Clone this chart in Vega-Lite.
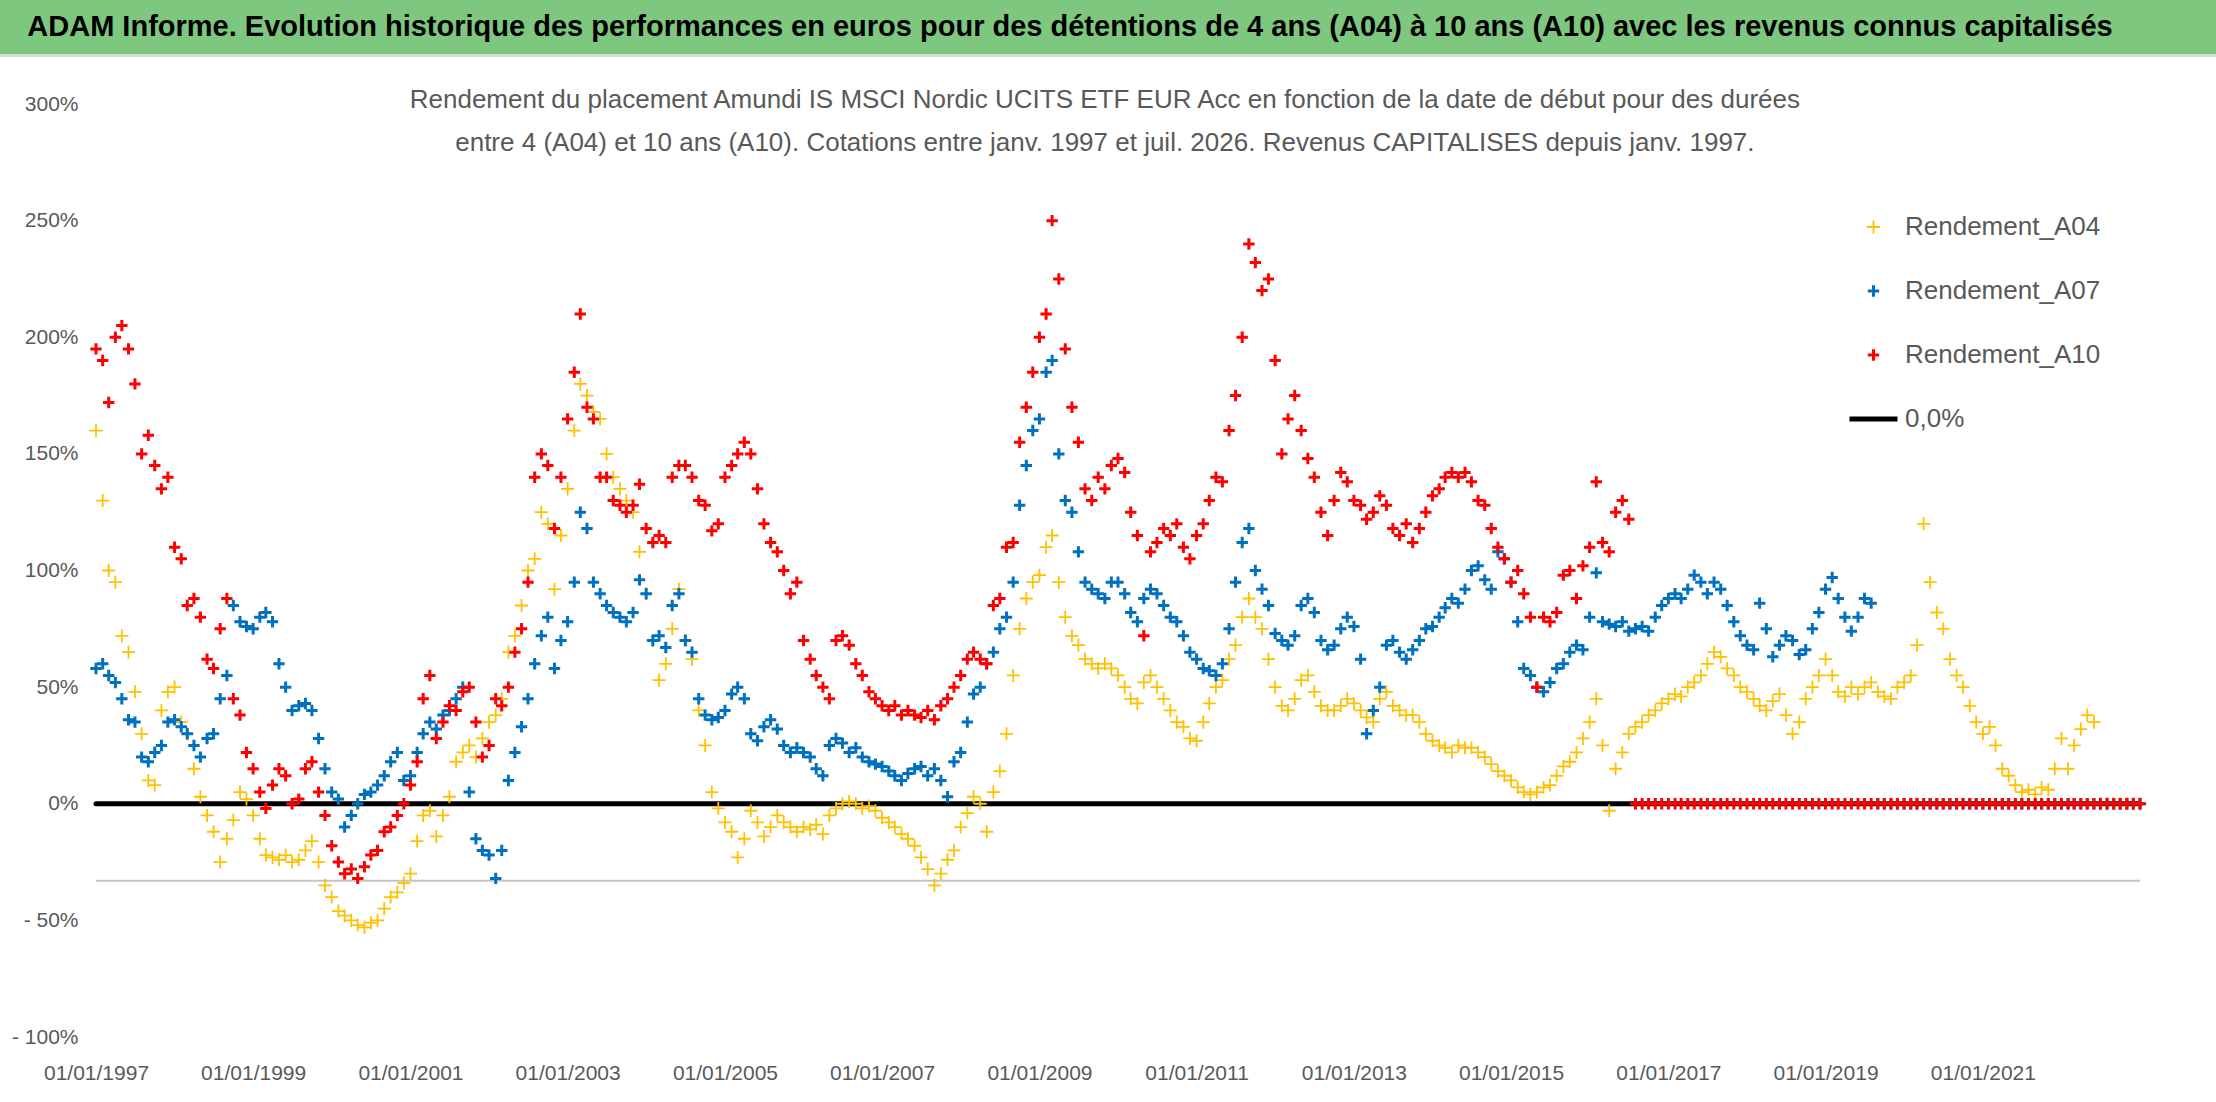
{
  "$schema": "https://vega.github.io/schema/vega-lite/v6.json",
  "autosize": "none",
  "width": 2044,
  "height": 933,
  "padding": {"left": 96, "top": 104, "right": 76, "bottom": 65},
  "background": "white",
  "datasets": {
    "perf": [
      {"d": "1997-01", "A04": 160, "A07": 58, "A10": 195},
      {"d": "1997-02", "A04": 130, "A07": 60, "A10": 190},
      {"d": "1997-03", "A04": 100, "A07": 55, "A10": 172},
      {"d": "1997-04", "A04": 95, "A07": 52, "A10": 200},
      {"d": "1997-05", "A04": 72, "A07": 45, "A10": 205},
      {"d": "1997-06", "A04": 65, "A07": 36, "A10": 195},
      {"d": "1997-07", "A04": 48, "A07": 35, "A10": 180},
      {"d": "1997-08", "A04": 30, "A07": 20, "A10": 150},
      {"d": "1997-09", "A04": 10, "A07": 18, "A10": 158},
      {"d": "1997-10", "A04": 8, "A07": 22, "A10": 145},
      {"d": "1997-11", "A04": 40, "A07": 25, "A10": 135},
      {"d": "1997-12", "A04": 48, "A07": 35, "A10": 140},
      {"d": "1998-01", "A04": 50, "A07": 36, "A10": 110},
      {"d": "1998-02", "A04": 35, "A07": 33, "A10": 105},
      {"d": "1998-03", "A04": 30, "A07": 30, "A10": 85},
      {"d": "1998-04", "A04": 15, "A07": 25, "A10": 88},
      {"d": "1998-05", "A04": 3, "A07": 20, "A10": 80},
      {"d": "1998-06", "A04": -5, "A07": 28, "A10": 62},
      {"d": "1998-07", "A04": -12, "A07": 30, "A10": 58},
      {"d": "1998-08", "A04": -25, "A07": 45, "A10": 75},
      {"d": "1998-09", "A04": -15, "A07": 55, "A10": 88},
      {"d": "1998-10", "A04": -7, "A07": 85, "A10": 45},
      {"d": "1998-11", "A04": 5, "A07": 78, "A10": 38},
      {"d": "1998-12", "A04": 2, "A07": 76, "A10": 22},
      {"d": "1999-01", "A04": -5, "A07": 75, "A10": 15},
      {"d": "1999-02", "A04": -15, "A07": 80, "A10": 5},
      {"d": "1999-03", "A04": -22, "A07": 82, "A10": -2},
      {"d": "1999-04", "A04": -23, "A07": 78, "A10": 8},
      {"d": "1999-05", "A04": -24, "A07": 60, "A10": 15},
      {"d": "1999-06", "A04": -22, "A07": 50, "A10": 12},
      {"d": "1999-07", "A04": -25, "A07": 40, "A10": 0},
      {"d": "1999-08", "A04": -24, "A07": 42, "A10": 2},
      {"d": "1999-09", "A04": -20, "A07": 43, "A10": 15},
      {"d": "1999-10", "A04": -16, "A07": 40, "A10": 18},
      {"d": "1999-11", "A04": -25, "A07": 28, "A10": 5},
      {"d": "1999-12", "A04": -35, "A07": 15, "A10": -5},
      {"d": "2000-01", "A04": -40, "A07": 5, "A10": -18},
      {"d": "2000-02", "A04": -46, "A07": 2, "A10": -25},
      {"d": "2000-03", "A04": -48, "A07": -10, "A10": -30},
      {"d": "2000-04", "A04": -50, "A07": -5, "A10": -28},
      {"d": "2000-05", "A04": -52, "A07": 0, "A10": -32},
      {"d": "2000-06", "A04": -53, "A07": 4, "A10": -27},
      {"d": "2000-07", "A04": -51, "A07": 5, "A10": -22},
      {"d": "2000-08", "A04": -50, "A07": 8, "A10": -20},
      {"d": "2000-09", "A04": -45, "A07": 12, "A10": -12},
      {"d": "2000-10", "A04": -40, "A07": 18, "A10": -10},
      {"d": "2000-11", "A04": -38, "A07": 22, "A10": -5},
      {"d": "2000-12", "A04": -34, "A07": 10, "A10": 0},
      {"d": "2001-01", "A04": -30, "A07": 12, "A10": 8},
      {"d": "2001-02", "A04": -16, "A07": 22, "A10": 18},
      {"d": "2001-03", "A04": -5, "A07": 30, "A10": 45},
      {"d": "2001-04", "A04": -3, "A07": 35, "A10": 55},
      {"d": "2001-05", "A04": -14, "A07": 32, "A10": 28},
      {"d": "2001-06", "A04": -5, "A07": 38, "A10": 35},
      {"d": "2001-07", "A04": 3, "A07": 40, "A10": 42},
      {"d": "2001-08", "A04": 18, "A07": 45, "A10": 40},
      {"d": "2001-09", "A04": 22, "A07": 50, "A10": 48},
      {"d": "2001-10", "A04": 25, "A07": 5, "A10": 50},
      {"d": "2001-11", "A04": 20, "A07": -15, "A10": 35},
      {"d": "2001-12", "A04": 28, "A07": -20, "A10": 20},
      {"d": "2002-01", "A04": 35, "A07": -22, "A10": 25},
      {"d": "2002-02", "A04": 38, "A07": -32, "A10": 45},
      {"d": "2002-03", "A04": 45, "A07": -20, "A10": 42},
      {"d": "2002-04", "A04": 65, "A07": 10, "A10": 50},
      {"d": "2002-05", "A04": 72, "A07": 22, "A10": 65},
      {"d": "2002-06", "A04": 85, "A07": 33, "A10": 75},
      {"d": "2002-07", "A04": 100, "A07": 45, "A10": 95},
      {"d": "2002-08", "A04": 105, "A07": 60, "A10": 140},
      {"d": "2002-09", "A04": 125, "A07": 72, "A10": 150},
      {"d": "2002-10", "A04": 120, "A07": 80, "A10": 145},
      {"d": "2002-11", "A04": 92, "A07": 58, "A10": 118},
      {"d": "2002-12", "A04": 115, "A07": 70, "A10": 140},
      {"d": "2003-01", "A04": 135, "A07": 78, "A10": 165},
      {"d": "2003-02", "A04": 160, "A07": 95, "A10": 185},
      {"d": "2003-03", "A04": 180, "A07": 125, "A10": 210},
      {"d": "2003-04", "A04": 175, "A07": 118, "A10": 170},
      {"d": "2003-05", "A04": 168, "A07": 95, "A10": 165},
      {"d": "2003-06", "A04": 165, "A07": 90, "A10": 140},
      {"d": "2003-07", "A04": 150, "A07": 85, "A10": 140},
      {"d": "2003-08", "A04": 140, "A07": 82, "A10": 130},
      {"d": "2003-09", "A04": 135, "A07": 80, "A10": 128},
      {"d": "2003-10", "A04": 130, "A07": 78, "A10": 125},
      {"d": "2003-11", "A04": 125, "A07": 82, "A10": 128},
      {"d": "2003-12", "A04": 108, "A07": 96, "A10": 137},
      {"d": "2004-01", "A04": 90, "A07": 90, "A10": 118},
      {"d": "2004-02", "A04": 70, "A07": 70, "A10": 112},
      {"d": "2004-03", "A04": 53, "A07": 72, "A10": 115},
      {"d": "2004-04", "A04": 60, "A07": 67, "A10": 112},
      {"d": "2004-05", "A04": 75, "A07": 85, "A10": 140},
      {"d": "2004-06", "A04": 92, "A07": 90, "A10": 145},
      {"d": "2004-07", "A04": 70, "A07": 70, "A10": 145},
      {"d": "2004-08", "A04": 62, "A07": 65, "A10": 140},
      {"d": "2004-09", "A04": 40, "A07": 45, "A10": 130},
      {"d": "2004-10", "A04": 25, "A07": 38, "A10": 128},
      {"d": "2004-11", "A04": 5, "A07": 36, "A10": 117},
      {"d": "2004-12", "A04": -2, "A07": 37, "A10": 120},
      {"d": "2005-01", "A04": -8, "A07": 40, "A10": 140},
      {"d": "2005-02", "A04": -12, "A07": 47, "A10": 145},
      {"d": "2005-03", "A04": -23, "A07": 50, "A10": 150},
      {"d": "2005-04", "A04": -15, "A07": 45, "A10": 155},
      {"d": "2005-05", "A04": -3, "A07": 30, "A10": 150},
      {"d": "2005-06", "A04": -8, "A07": 27, "A10": 135},
      {"d": "2005-07", "A04": -14, "A07": 33, "A10": 120},
      {"d": "2005-08", "A04": -10, "A07": 36, "A10": 112},
      {"d": "2005-09", "A04": -5, "A07": 32, "A10": 108},
      {"d": "2005-10", "A04": -8, "A07": 25, "A10": 100},
      {"d": "2005-11", "A04": -10, "A07": 22, "A10": 90},
      {"d": "2005-12", "A04": -12, "A07": 24, "A10": 95},
      {"d": "2006-01", "A04": -10, "A07": 22, "A10": 70},
      {"d": "2006-02", "A04": -11, "A07": 20, "A10": 62},
      {"d": "2006-03", "A04": -9, "A07": 15, "A10": 55},
      {"d": "2006-04", "A04": -13, "A07": 12, "A10": 50},
      {"d": "2006-05", "A04": -5, "A07": 25, "A10": 45},
      {"d": "2006-06", "A04": -2, "A07": 28, "A10": 70},
      {"d": "2006-07", "A04": 0, "A07": 26, "A10": 72},
      {"d": "2006-08", "A04": 1, "A07": 22, "A10": 68},
      {"d": "2006-09", "A04": 0, "A07": 24, "A10": 60},
      {"d": "2006-10", "A04": -2, "A07": 20, "A10": 55},
      {"d": "2006-11", "A04": -1, "A07": 18, "A10": 48},
      {"d": "2006-12", "A04": -3, "A07": 17, "A10": 45},
      {"d": "2007-01", "A04": -6, "A07": 16, "A10": 42},
      {"d": "2007-02", "A04": -8, "A07": 14, "A10": 40},
      {"d": "2007-03", "A04": -10, "A07": 12, "A10": 42},
      {"d": "2007-04", "A04": -13, "A07": 10, "A10": 38},
      {"d": "2007-05", "A04": -15, "A07": 13, "A10": 40},
      {"d": "2007-06", "A04": -18, "A07": 15, "A10": 38},
      {"d": "2007-07", "A04": -23, "A07": 16, "A10": 37},
      {"d": "2007-08", "A04": -28, "A07": 12, "A10": 40},
      {"d": "2007-09", "A04": -35, "A07": 15, "A10": 36},
      {"d": "2007-10", "A04": -30, "A07": 10, "A10": 42},
      {"d": "2007-11", "A04": -24, "A07": 3, "A10": 45},
      {"d": "2007-12", "A04": -20, "A07": 18, "A10": 50},
      {"d": "2008-01", "A04": -10, "A07": 22, "A10": 55},
      {"d": "2008-02", "A04": -4, "A07": 35, "A10": 62},
      {"d": "2008-03", "A04": 3, "A07": 47, "A10": 65},
      {"d": "2008-04", "A04": 0, "A07": 50, "A10": 62},
      {"d": "2008-05", "A04": -12, "A07": 60, "A10": 60},
      {"d": "2008-06", "A04": 5, "A07": 65, "A10": 85},
      {"d": "2008-07", "A04": 14, "A07": 75, "A10": 88},
      {"d": "2008-08", "A04": 30, "A07": 80, "A10": 110},
      {"d": "2008-09", "A04": 55, "A07": 95, "A10": 112},
      {"d": "2008-10", "A04": 75, "A07": 128, "A10": 155},
      {"d": "2008-11", "A04": 88, "A07": 145, "A10": 170},
      {"d": "2008-12", "A04": 95, "A07": 160, "A10": 185},
      {"d": "2009-01", "A04": 98, "A07": 165, "A10": 200},
      {"d": "2009-02", "A04": 110, "A07": 185, "A10": 210},
      {"d": "2009-03", "A04": 115, "A07": 190, "A10": 250},
      {"d": "2009-04", "A04": 95, "A07": 150, "A10": 225},
      {"d": "2009-05", "A04": 80, "A07": 130, "A10": 195},
      {"d": "2009-06", "A04": 72, "A07": 125, "A10": 170},
      {"d": "2009-07", "A04": 68, "A07": 108, "A10": 155},
      {"d": "2009-08", "A04": 62, "A07": 95, "A10": 135},
      {"d": "2009-09", "A04": 60, "A07": 92, "A10": 130},
      {"d": "2009-10", "A04": 58, "A07": 90, "A10": 140},
      {"d": "2009-11", "A04": 60, "A07": 88, "A10": 135},
      {"d": "2009-12", "A04": 58, "A07": 95, "A10": 145},
      {"d": "2010-01", "A04": 55, "A07": 95, "A10": 148},
      {"d": "2010-02", "A04": 50, "A07": 90, "A10": 142},
      {"d": "2010-03", "A04": 45, "A07": 82, "A10": 125},
      {"d": "2010-04", "A04": 43, "A07": 78, "A10": 115},
      {"d": "2010-05", "A04": 52, "A07": 88, "A10": 72},
      {"d": "2010-06", "A04": 55, "A07": 92, "A10": 108},
      {"d": "2010-07", "A04": 50, "A07": 90, "A10": 112},
      {"d": "2010-08", "A04": 45, "A07": 85, "A10": 118},
      {"d": "2010-09", "A04": 40, "A07": 80, "A10": 115},
      {"d": "2010-10", "A04": 35, "A07": 78, "A10": 120},
      {"d": "2010-11", "A04": 33, "A07": 72, "A10": 110},
      {"d": "2010-12", "A04": 28, "A07": 65, "A10": 105},
      {"d": "2011-01", "A04": 27, "A07": 62, "A10": 115},
      {"d": "2011-02", "A04": 35, "A07": 58, "A10": 120},
      {"d": "2011-03", "A04": 43, "A07": 57, "A10": 130},
      {"d": "2011-04", "A04": 50, "A07": 55, "A10": 140},
      {"d": "2011-05", "A04": 53, "A07": 60, "A10": 138},
      {"d": "2011-06", "A04": 62, "A07": 75, "A10": 160},
      {"d": "2011-07", "A04": 68, "A07": 95, "A10": 175},
      {"d": "2011-08", "A04": 80, "A07": 112, "A10": 200},
      {"d": "2011-09", "A04": 88, "A07": 118, "A10": 240},
      {"d": "2011-10", "A04": 80, "A07": 100, "A10": 232},
      {"d": "2011-11", "A04": 75, "A07": 92, "A10": 220},
      {"d": "2011-12", "A04": 62, "A07": 85, "A10": 225},
      {"d": "2012-01", "A04": 50, "A07": 73, "A10": 190},
      {"d": "2012-02", "A04": 42, "A07": 70, "A10": 150},
      {"d": "2012-03", "A04": 40, "A07": 68, "A10": 165},
      {"d": "2012-04", "A04": 45, "A07": 72, "A10": 175},
      {"d": "2012-05", "A04": 53, "A07": 85, "A10": 160},
      {"d": "2012-06", "A04": 55, "A07": 88, "A10": 148},
      {"d": "2012-07", "A04": 48, "A07": 82, "A10": 140},
      {"d": "2012-08", "A04": 42, "A07": 70, "A10": 125},
      {"d": "2012-09", "A04": 40, "A07": 66, "A10": 115},
      {"d": "2012-10", "A04": 40, "A07": 68, "A10": 130},
      {"d": "2012-11", "A04": 42, "A07": 75, "A10": 142},
      {"d": "2012-12", "A04": 45, "A07": 80, "A10": 138},
      {"d": "2013-01", "A04": 43, "A07": 76, "A10": 130},
      {"d": "2013-02", "A04": 40, "A07": 62, "A10": 128},
      {"d": "2013-03", "A04": 37, "A07": 30, "A10": 122},
      {"d": "2013-04", "A04": 35, "A07": 40, "A10": 125},
      {"d": "2013-05", "A04": 45, "A07": 50, "A10": 132},
      {"d": "2013-06", "A04": 48, "A07": 68, "A10": 128},
      {"d": "2013-07", "A04": 42, "A07": 70, "A10": 118},
      {"d": "2013-08", "A04": 40, "A07": 65, "A10": 115},
      {"d": "2013-09", "A04": 38, "A07": 62, "A10": 120},
      {"d": "2013-10", "A04": 38, "A07": 66, "A10": 112},
      {"d": "2013-11", "A04": 35, "A07": 70, "A10": 118},
      {"d": "2013-12", "A04": 30, "A07": 75, "A10": 125},
      {"d": "2014-01", "A04": 27, "A07": 76, "A10": 132},
      {"d": "2014-02", "A04": 25, "A07": 80, "A10": 135},
      {"d": "2014-03", "A04": 24, "A07": 84, "A10": 140},
      {"d": "2014-04", "A04": 22, "A07": 88, "A10": 142},
      {"d": "2014-05", "A04": 25, "A07": 86, "A10": 140},
      {"d": "2014-06", "A04": 24, "A07": 92, "A10": 142},
      {"d": "2014-07", "A04": 24, "A07": 100, "A10": 138},
      {"d": "2014-08", "A04": 22, "A07": 102, "A10": 130},
      {"d": "2014-09", "A04": 20, "A07": 96, "A10": 128},
      {"d": "2014-10", "A04": 17, "A07": 92, "A10": 118},
      {"d": "2014-11", "A04": 14, "A07": 108, "A10": 110},
      {"d": "2014-12", "A04": 12, "A07": 105, "A10": 105},
      {"d": "2015-01", "A04": 10, "A07": 95, "A10": 95},
      {"d": "2015-02", "A04": 7, "A07": 78, "A10": 100},
      {"d": "2015-03", "A04": 5, "A07": 58, "A10": 90},
      {"d": "2015-04", "A04": 4, "A07": 55, "A10": 80},
      {"d": "2015-05", "A04": 5, "A07": 50, "A10": 50},
      {"d": "2015-06", "A04": 7, "A07": 48, "A10": 80},
      {"d": "2015-07", "A04": 8, "A07": 52, "A10": 78},
      {"d": "2015-08", "A04": 12, "A07": 58, "A10": 82},
      {"d": "2015-09", "A04": 16, "A07": 60, "A10": 98},
      {"d": "2015-10", "A04": 18, "A07": 65, "A10": 100},
      {"d": "2015-11", "A04": 22, "A07": 68, "A10": 88},
      {"d": "2015-12", "A04": 28, "A07": 66, "A10": 102},
      {"d": "2016-01", "A04": 35, "A07": 80, "A10": 110},
      {"d": "2016-02", "A04": 45, "A07": 99, "A10": 138},
      {"d": "2016-03", "A04": 25, "A07": 78, "A10": 112},
      {"d": "2016-04", "A04": -3, "A07": 77, "A10": 108},
      {"d": "2016-05", "A04": 15, "A07": 76, "A10": 125},
      {"d": "2016-06", "A04": 22, "A07": 78, "A10": 130},
      {"d": "2016-07", "A04": 30, "A07": 74, "A10": 122},
      {"d": "2016-08", "A04": 33, "A07": 75, "A10": 0},
      {"d": "2016-09", "A04": 35, "A07": 76, "A10": 0},
      {"d": "2016-10", "A04": 38, "A07": 74, "A10": 0},
      {"d": "2016-11", "A04": 40, "A07": 80, "A10": 0},
      {"d": "2016-12", "A04": 43, "A07": 85, "A10": 0},
      {"d": "2017-01", "A04": 45, "A07": 88, "A10": 0},
      {"d": "2017-02", "A04": 47, "A07": 90, "A10": 0},
      {"d": "2017-03", "A04": 46, "A07": 88, "A10": 0},
      {"d": "2017-04", "A04": 50, "A07": 92, "A10": 0},
      {"d": "2017-05", "A04": 52, "A07": 98, "A10": 0},
      {"d": "2017-06", "A04": 55, "A07": 95, "A10": 0},
      {"d": "2017-07", "A04": 60, "A07": 90, "A10": 0},
      {"d": "2017-08", "A04": 65, "A07": 95, "A10": 0},
      {"d": "2017-09", "A04": 63, "A07": 92, "A10": 0},
      {"d": "2017-10", "A04": 58, "A07": 85, "A10": 0},
      {"d": "2017-11", "A04": 55, "A07": 78, "A10": 0},
      {"d": "2017-12", "A04": 50, "A07": 72, "A10": 0},
      {"d": "2018-01", "A04": 48, "A07": 68, "A10": 0},
      {"d": "2018-02", "A04": 45, "A07": 66, "A10": 0},
      {"d": "2018-03", "A04": 42, "A07": 86, "A10": 0},
      {"d": "2018-04", "A04": 40, "A07": 75, "A10": 0},
      {"d": "2018-05", "A04": 44, "A07": 63, "A10": 0},
      {"d": "2018-06", "A04": 47, "A07": 68, "A10": 0},
      {"d": "2018-07", "A04": 38, "A07": 72, "A10": 0},
      {"d": "2018-08", "A04": 30, "A07": 70, "A10": 0},
      {"d": "2018-09", "A04": 35, "A07": 64, "A10": 0},
      {"d": "2018-10", "A04": 45, "A07": 66, "A10": 0},
      {"d": "2018-11", "A04": 50, "A07": 75, "A10": 0},
      {"d": "2018-12", "A04": 55, "A07": 82, "A10": 0},
      {"d": "2019-01", "A04": 62, "A07": 92, "A10": 0},
      {"d": "2019-02", "A04": 55, "A07": 97, "A10": 0},
      {"d": "2019-03", "A04": 48, "A07": 88, "A10": 0},
      {"d": "2019-04", "A04": 46, "A07": 80, "A10": 0},
      {"d": "2019-05", "A04": 50, "A07": 74, "A10": 0},
      {"d": "2019-06", "A04": 47, "A07": 80, "A10": 0},
      {"d": "2019-07", "A04": 50, "A07": 88, "A10": 0},
      {"d": "2019-08", "A04": 52, "A07": 86, "A10": 0},
      {"d": "2019-09", "A04": 48, "A07": 0, "A10": 0},
      {"d": "2019-10", "A04": 46, "A07": 0, "A10": 0},
      {"d": "2019-11", "A04": 45, "A07": 0, "A10": 0},
      {"d": "2019-12", "A04": 50, "A07": 0, "A10": 0},
      {"d": "2020-01", "A04": 52, "A07": 0, "A10": 0},
      {"d": "2020-02", "A04": 55, "A07": 0, "A10": 0},
      {"d": "2020-03", "A04": 68, "A07": 0, "A10": 0},
      {"d": "2020-04", "A04": 120, "A07": 0, "A10": 0},
      {"d": "2020-05", "A04": 95, "A07": 0, "A10": 0},
      {"d": "2020-06", "A04": 82, "A07": 0, "A10": 0},
      {"d": "2020-07", "A04": 75, "A07": 0, "A10": 0},
      {"d": "2020-08", "A04": 62, "A07": 0, "A10": 0},
      {"d": "2020-09", "A04": 55, "A07": 0, "A10": 0},
      {"d": "2020-10", "A04": 50, "A07": 0, "A10": 0},
      {"d": "2020-11", "A04": 42, "A07": 0, "A10": 0},
      {"d": "2020-12", "A04": 35, "A07": 0, "A10": 0},
      {"d": "2021-01", "A04": 30, "A07": 0, "A10": 0},
      {"d": "2021-02", "A04": 33, "A07": 0, "A10": 0},
      {"d": "2021-03", "A04": 25, "A07": 0, "A10": 0},
      {"d": "2021-04", "A04": 15, "A07": 0, "A10": 0},
      {"d": "2021-05", "A04": 12, "A07": 0, "A10": 0},
      {"d": "2021-06", "A04": 8, "A07": 0, "A10": 0},
      {"d": "2021-07", "A04": 5, "A07": 0, "A10": 0},
      {"d": "2021-08", "A04": 6, "A07": 0, "A10": 0},
      {"d": "2021-09", "A04": 4, "A07": 0, "A10": 0},
      {"d": "2021-10", "A04": 7, "A07": 0, "A10": 0},
      {"d": "2021-11", "A04": 6, "A07": 0, "A10": 0},
      {"d": "2021-12", "A04": 15, "A07": 0, "A10": 0},
      {"d": "2022-01", "A04": 28, "A07": 0, "A10": 0},
      {"d": "2022-02", "A04": 15, "A07": 0, "A10": 0},
      {"d": "2022-03", "A04": 25, "A07": 0, "A10": 0},
      {"d": "2022-04", "A04": 32, "A07": 0, "A10": 0},
      {"d": "2022-05", "A04": 38, "A07": 0, "A10": 0},
      {"d": "2022-06", "A04": 35, "A07": 0, "A10": 0},
      {"d": "2022-07", "A04": 0, "A07": 0, "A10": 0},
      {"d": "2022-08", "A04": 0, "A07": 0, "A10": 0},
      {"d": "2022-09", "A04": 0, "A07": 0, "A10": 0},
      {"d": "2022-10", "A04": 0, "A07": 0, "A10": 0},
      {"d": "2022-11", "A04": 0, "A07": 0, "A10": 0},
      {"d": "2022-12", "A04": 0, "A07": 0, "A10": 0},
      {"d": "2023-01", "A04": 0, "A07": 0, "A10": 0}
    ]
  },
  "layer": [
    {
      "data": {"values": [{}]},
      "mark": {"type": "rect", "color": "#7ec77e", "clip": false},
      "encoding": {
        "x": {"datum": {"year": 1995, "month": 10, "date": 12, "utc": true}, "type": "temporal"},
        "x2": {"datum": {"year": 2023, "month": 12, "date": 20, "utc": true}},
        "y": {"datum": 321.4, "type": "quantitative"},
        "y2": {"datum": 350}
      }
    },
    {
      "data": {"values": [{}]},
      "mark": {"type": "rect", "color": "#d9d9d9", "clip": false},
      "encoding": {
        "x": {"datum": {"year": 1995, "month": 10, "date": 12, "utc": true}, "type": "temporal"},
        "x2": {"datum": {"year": 2023, "month": 12, "date": 20, "utc": true}},
        "y": {"datum": 320.2, "type": "quantitative"},
        "y2": {"datum": 321.4}
      }
    },
    {
      "data": {"values": [{}]},
      "mark": {
        "type": "text",
        "font": "Liberation Sans",
        "fontSize": 29,
        "fontWeight": "bold",
        "color": "#000000",
        "align": "center",
        "baseline": "middle"
      },
      "encoding": {
        "x": {"datum": {"year": 2009, "month": 5, "date": 23, "utc": true}, "type": "temporal"},
        "y": {"datum": 333, "type": "quantitative"},
        "text": {"value": "ADAM Informe. Evolution historique des performances en euros pour des détentions de 4 ans (A04) à 10 ans (A10) avec les revenus connus capitalisés"}
      }
    },
    {
      "data": {"values": [{}]},
      "mark": {"type": "rule", "color": "#c4c4c4", "strokeWidth": 2},
      "encoding": {"y": {"datum": -33, "type": "quantitative"}}
    },
    {
      "data": {"values": [{}]},
      "mark": {"type": "rule", "color": "#000000", "strokeWidth": 5, "strokeCap": "round"},
      "encoding": {"y": {"datum": 0, "type": "quantitative"}}
    },
    {
      "data": {"name": "perf"},
      "transform": [{"fold": ["A04", "A07", "A10"], "as": ["serie", "v"]}],
      "mark": {"type": "point", "filled": false, "opacity": 1},
      "encoding": {
        "x": {
          "field": "d",
          "type": "temporal",
          "scale": {
            "type": "utc",
            "domain": [
              {"year": 1997, "month": 1, "date": 1, "utc": true},
              {"year": 2023, "month": 1, "date": 1, "utc": true}
            ]
          },
          "axis": {
            "values": [
              {"year": 1997, "month": 1, "date": 1, "utc": true},
              {"year": 1999, "month": 1, "date": 1, "utc": true},
              {"year": 2001, "month": 1, "date": 1, "utc": true},
              {"year": 2003, "month": 1, "date": 1, "utc": true},
              {"year": 2005, "month": 1, "date": 1, "utc": true},
              {"year": 2007, "month": 1, "date": 1, "utc": true},
              {"year": 2009, "month": 1, "date": 1, "utc": true},
              {"year": 2011, "month": 1, "date": 1, "utc": true},
              {"year": 2013, "month": 1, "date": 1, "utc": true},
              {"year": 2015, "month": 1, "date": 1, "utc": true},
              {"year": 2017, "month": 1, "date": 1, "utc": true},
              {"year": 2019, "month": 1, "date": 1, "utc": true},
              {"year": 2021, "month": 1, "date": 1, "utc": true}
            ],
            "format": "%d/%m/%Y",
            "labelPadding": 25,
            "labelFlush": false,
            "labelOverlap": false
          }
        },
        "y": {
          "field": "v",
          "type": "quantitative",
          "scale": {"domain": [-100, 300], "nice": false, "zero": false},
          "axis": {
            "values": [-100, -50, 0, 50, 100, 150, 200, 250, 300],
            "labelExpr": "datum.value < 0 ? '- ' + abs(datum.value) + '%' : datum.value + '%'",
            "labelPadding": 18
          }
        },
        "color": {
          "field": "serie",
          "type": "nominal",
          "scale": {
            "domain": ["A04", "A07", "A10", "0,0%"],
            "range": ["#FFC000", "#0070C0", "#FF0000", "#000000"]
          },
          "legend": {
            "title": null,
            "orient": "none",
            "legendX": 1731,
            "legendY": 88,
            "labelExpr": "datum.label == '0,0%' ? '0,0%' : 'Rendement_' + datum.label"
          }
        },
        "shape": {
          "field": "serie",
          "type": "nominal",
          "scale": {
            "domain": ["A04", "A07", "A10", "0,0%"],
            "range": ["M-1,0H1M0,-1V1", "M-1,0H1M0,-1V1", "M-1,0H1M0,-1V1", "stroke"]
          }
        },
        "size": {
          "field": "serie",
          "type": "nominal",
          "scale": {
            "type": "ordinal",
            "domain": ["A04", "A07", "A10", "0,0%"],
            "range": [170, 130, 130, 2304]
          }
        },
        "strokeWidth": {
          "field": "serie",
          "type": "nominal",
          "scale": {
            "type": "ordinal",
            "domain": ["A04", "A07", "A10", "0,0%"],
            "range": [1.8, 3, 3, 5]
          }
        },
        "order": {"field": "serie"}
      }
    },
    {
      "data": {"values": [{}]},
      "mark": {"type": "rect", "color": "#ffffff", "clip": false},
      "encoding": {
        "x": {"datum": {"year": 2000, "month": 10, "date": 21, "utc": true}, "type": "temporal"},
        "x2": {"datum": {"year": 2018, "month": 10, "date": 22, "utc": true}},
        "y": {"datum": 271, "type": "quantitative"},
        "y2": {"datum": 302}
      }
    },
    {
      "data": {"values": [{}]},
      "mark": {
        "type": "text",
        "font": "Liberation Sans",
        "fontSize": 26,
        "color": "#595959",
        "align": "center",
        "baseline": "middle",
        "lineBreak": "\n",
        "lineHeight": 43
      },
      "encoding": {
        "x": {"datum": {"year": 2009, "month": 11, "date": 1, "utc": true}, "type": "temporal"},
        "y": {"datum": 301.7, "type": "quantitative"},
        "text": {"value": "Rendement du placement Amundi IS MSCI Nordic UCITS ETF EUR Acc en fonction de la date de début pour des durées\nentre 4 (A04) et 10 ans (A10). Cotations entre janv. 1997 et juil. 2026. Revenus CAPITALISES depuis janv. 1997."}
      }
    }
  ],
  "config": {
    "view": {"stroke": null},
    "axis": {
      "title": null,
      "labelFont": "Liberation Sans",
      "labelFontSize": 21,
      "labelColor": "#595959",
      "gridColor": "#d9d9d9",
      "gridWidth": 2,
      "domain": false,
      "ticks": false,
      "tickSize": 0
    },
    "legend": {
      "fillColor": "#ffffff",
      "padding": 20,
      "labelFont": "Liberation Sans",
      "labelFontSize": 26,
      "labelColor": "#595959",
      "labelOffset": 5,
      "labelLimit": 0,
      "clipHeight": 30,
      "rowPadding": 34
    }
  }
}
